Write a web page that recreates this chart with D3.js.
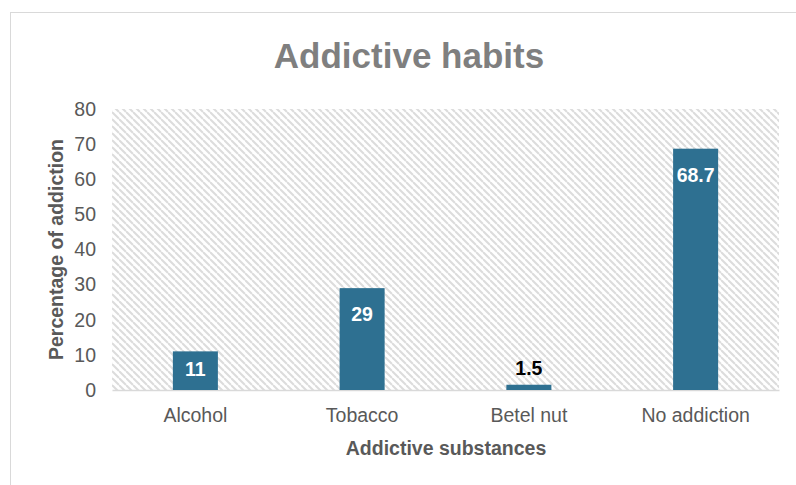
<!DOCTYPE html>
<html><head><meta charset="utf-8">
<script src="https://cdn.jsdelivr.net/npm/d3@7"></script>
<style>body{margin:0;background:#fff}svg{display:block;font-family:"Liberation Sans",Arial,sans-serif}</style>
</head><body>
<script>
const categories = ["Alcohol", "Tobacco", "Betel nut", "No addiction"];
const values = [11, 29, 1.5, 68.7];
const yTicks = [0, 10, 20, 30, 40, 50, 60, 70, 80];
const title = "Addictive habits";
const xTitle = "Addictive substances";
const yTitle = "Percentage of addiction";

const W = 796, H = 485;
const m = {left: 112, right: 17, top: 109, bottom: 95};
const svg = d3.select("body").append("svg").attr("width", W).attr("height", H);

const defs = svg.append("defs");
const pat = defs.append("pattern").attr("id", "hatch").attr("patternUnits", "userSpaceOnUse")
  .attr("width", 7).attr("height", 7);
pat.append("rect").attr("width", 7).attr("height", 7).attr("fill", "#fff");
pat.append("path").attr("d", "M-1,-1 L8,8 M-4,3 L0,7 M3,-4 L7,0").attr("stroke", "#dcdcdc").attr("stroke-width", 2);

// outer border
svg.append("rect").attr("x", 10.5).attr("y", 12.5).attr("width", 800).attr("height", 500)
  .attr("fill", "none").attr("stroke", "#d9d9d9");

const x = d3.scaleBand().domain(categories).range([m.left, W - m.right]).paddingInner(0.73).paddingOuter(0.365);
const y = d3.scaleLinear().domain([0, 80]).range([H - m.bottom, m.top]);

svg.append("rect").attr("x", m.left).attr("y", y(80)).attr("width", W - m.right - m.left)
  .attr("height", y(0) - y(80)).attr("fill", "url(#hatch)");

const yAxis = svg.append("g").attr("transform", `translate(${m.left},0)`)
  .call(d3.axisLeft(y).tickValues(yTicks).tickSize(0).tickPadding(16));
yAxis.select(".domain").remove();
yAxis.selectAll("text").attr("font-size", 19.5).attr("fill", "#595959").attr("font-family", "Liberation Sans, Arial, sans-serif");

const xAxis = svg.append("g").attr("transform", `translate(0,${y(0)})`)
  .call(d3.axisBottom(x).tickSize(0).tickPadding(18));
xAxis.select(".domain").attr("stroke", "#d9d9d9").attr("stroke-width", 1.5);
xAxis.selectAll("text").attr("font-size", 19.5).attr("fill", "#595959").attr("font-family", "Liberation Sans, Arial, sans-serif");

svg.append("g").selectAll("rect").data(values).join("rect")
  .attr("x", (d, i) => x(categories[i])).attr("width", x.bandwidth())
  .attr("y", d => y(d)).attr("height", d => y(0) - y(d)).attr("fill", "#2e7091");

svg.append("g").selectAll("text").data(values).join("text")
  .attr("x", (d, i) => x(categories[i]) + x.bandwidth() / 2)
  .attr("y", d => y(d) > y(5) ? y(d) - 10 : Math.min(y(d) + 33, (y(d) + y(0)) / 2 + 5))
  .attr("text-anchor", "middle").attr("font-size", 19.5).attr("font-weight", "bold")
  .attr("fill", d => y(d) > y(5) ? "#000" : "#fff")
  .text(d => d);

svg.append("text").attr("x", 409).attr("y", 68).attr("text-anchor", "middle")
  .attr("font-size", 35).attr("font-weight", "bold").attr("fill", "#7f7f7f").text(title);

svg.append("text").attr("x", 446).attr("y", 455).attr("text-anchor", "middle")
  .attr("font-size", 19.5).attr("font-weight", "bold").attr("fill", "#595959").text(xTitle);

svg.append("text").attr("transform", `translate(63,${(m.top + H - m.bottom) / 2}) rotate(-90)`)
  .attr("text-anchor", "middle").attr("font-size", 19.5).attr("font-weight", "bold").attr("fill", "#595959").text(yTitle);
</script>
</body></html>
